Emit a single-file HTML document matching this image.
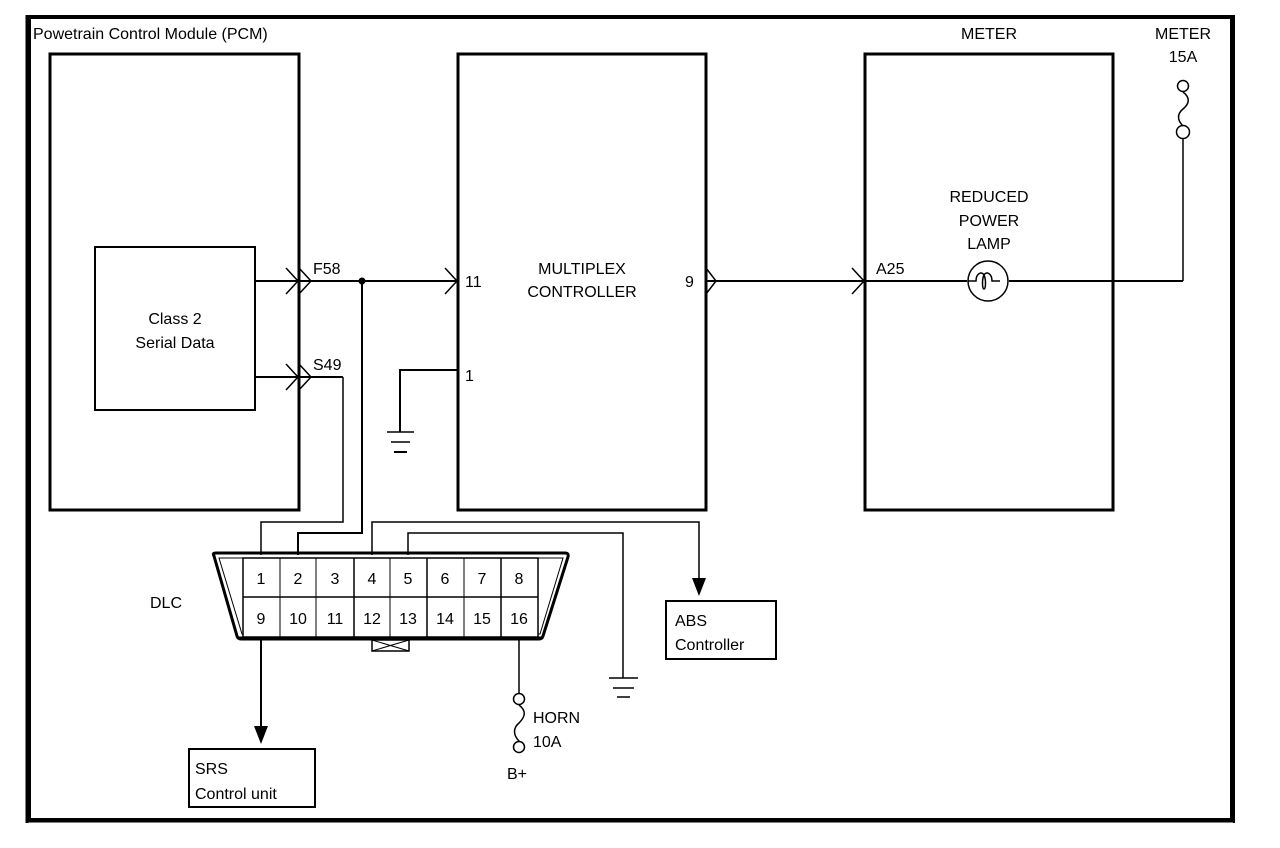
<!DOCTYPE html>
<html><head><meta charset="utf-8"><style>
html,body{margin:0;padding:0;background:#fff;}
svg{display:block;}
text{font-family:"Liberation Sans",Arial,sans-serif;font-size:16px;fill:#000;}
</style></head><body>
<svg width="1280" height="848" viewBox="0 0 1280 848" xmlns="http://www.w3.org/2000/svg">
<!-- outer border -->
<rect x="29" y="17" width="1203" height="803" fill="none" stroke="#000" stroke-width="4"/>
<line x1="27" y1="15" x2="27" y2="823" stroke="#000" stroke-width="3"/>
<line x1="27" y1="821" x2="1235" y2="821" stroke="#000" stroke-width="3"/>
<line x1="1234" y1="15" x2="1234" y2="823" stroke="#000" stroke-width="2"/>

<g fill="none" stroke="#000">
<!-- boxes -->
<rect x="50" y="54" width="249" height="456" stroke-width="3"/>
<rect x="95" y="247" width="160" height="163" stroke-width="2"/>
<rect x="458" y="54" width="248" height="456" stroke-width="3"/>
<rect x="865" y="54" width="248" height="456" stroke-width="3"/>

<!-- F58 -->
<line x1="255" y1="281" x2="457" y2="281" stroke-width="2"/>
<polyline points="286,268 298,281 286,294" stroke-width="1.5"/>
<polyline points="299,268 311,281 299,294" stroke-width="1.5"/>
<polyline points="445,268 457,281 445,294" stroke-width="1.5"/>
<!-- S49 -->
<line x1="255" y1="377" x2="343" y2="377" stroke-width="2"/>
<polyline points="286,364 298,377 286,390" stroke-width="1.5"/>
<polyline points="299,364 311,377 299,390" stroke-width="1.5"/>
<polyline points="343,377 343,522 261,522 261,555" stroke-width="1.5"/>
<!-- splice down to pin 2 -->
<polyline points="362,281 362,533 298,533 298,555" stroke-width="2"/>
<!-- ground pin 1 -->
<polyline points="457,370 400,370 400,432" stroke-width="2"/>
<line x1="387" y1="432" x2="414" y2="432" stroke-width="1.5"/>
<line x1="391" y1="442" x2="410" y2="442" stroke-width="1.5"/>
<line x1="394" y1="452" x2="407" y2="452" stroke-width="2"/>
<!-- 9 to A25 -->
<line x1="706" y1="281" x2="967" y2="281" stroke-width="2"/>
<polyline points="706,268 716,281 706,294" stroke-width="1.5"/>
<polyline points="852,268 864,281 852,294" stroke-width="1.5"/>
<line x1="1009" y1="281" x2="1183" y2="281" stroke-width="2"/>
<line x1="1183" y1="281" x2="1183" y2="139" stroke-width="1.5"/>
<!-- lamp -->
<circle cx="988" cy="281" r="20" stroke-width="1.5"/>
<path d="M968,281 h8 c0,-8 6,-10 8,-6 c2,4 2,14 0,14 c-2,0 -2,-10 0,-14 c2,-4 8,-2 8,6 h8" stroke-width="1.5"/>
<!-- meter fuse -->
<circle cx="1183" cy="86" r="5.5" stroke-width="1.5"/>
<circle cx="1183" cy="132" r="6.5" stroke-width="1.5"/>
<path d="M1183,92 c8,6 6,12 0,17 c-6,5 -6,11 0,17" stroke-width="1.5"/>

<!-- pin 4 to ABS -->
<polyline points="372,555 372,522 699,522 699,590" stroke-width="1.5"/>
<!-- pin 5 to ground -->
<polyline points="408,555 408,533 623,533 623,678" stroke-width="1.5"/>
<line x1="609" y1="678" x2="638" y2="678" stroke-width="1.5"/>
<line x1="613" y1="688" x2="634" y2="688" stroke-width="1.5"/>
<line x1="617" y1="697" x2="630" y2="697" stroke-width="1.5"/>

<!-- DLC -->
<path d="M214,556 Q212,553 216,553 L565,553 Q569,553 568,557 L543,636 Q542,639 539,639 L241,639 Q238,639 237,636 Z" stroke-width="3"/>
<path d="M219,558 L563,558 L540,634 L242,634 Z" stroke-width="1"/>
<rect x="243" y="558" width="295" height="79" stroke-width="1.5" fill="#fff"/>
<line x1="243" y1="597" x2="538" y2="597" stroke-width="1.5"/>
<line x1="280" y1="558" x2="280" y2="637" stroke-width="1"/>
<line x1="316" y1="558" x2="316" y2="637" stroke-width="1"/>
<line x1="354" y1="558" x2="354" y2="637" stroke-width="1.5"/>
<line x1="390" y1="558" x2="390" y2="637" stroke-width="1"/>
<line x1="427" y1="558" x2="427" y2="637" stroke-width="1.5"/>
<line x1="464" y1="558" x2="464" y2="637" stroke-width="1"/>
<line x1="501" y1="558" x2="501" y2="637" stroke-width="1.5"/>
<line x1="238" y1="638" x2="542" y2="638" stroke-width="3"/>
<rect x="372" y="640" width="37" height="11" stroke-width="1.5"/>
<line x1="372" y1="640" x2="409" y2="651" stroke-width="1"/>
<line x1="372" y1="651" x2="409" y2="640" stroke-width="1"/>

<!-- pin 9 to SRS -->
<line x1="261" y1="639" x2="261" y2="728" stroke-width="2"/>
<!-- pin 16 horn fuse -->
<line x1="519" y1="639" x2="519" y2="693" stroke-width="1.5"/>
<circle cx="519" cy="699" r="5.5" stroke-width="1.5"/>
<circle cx="519" cy="747" r="5.5" stroke-width="1.5"/>
<path d="M519,705 c8,6 6,12 0,18 c-6,5 -6,12 0,18" stroke-width="1.5"/>

<rect x="189" y="749" width="126" height="58" stroke-width="2"/>
<rect x="666" y="601" width="110" height="58" stroke-width="2"/>
</g>
<polygon points="254,726 268,726 261,744" fill="#000"/>
<polygon points="692,578 706,578 699,596" fill="#000"/>
<circle cx="362" cy="281" r="3.5" fill="#000"/>

<!-- labels -->
<text x="33" y="39">Powetrain Control Module (PCM)</text>
<text x="989" y="39" text-anchor="middle">METER</text>
<text x="1183" y="39" text-anchor="middle">METER</text>
<text x="1183" y="62" text-anchor="middle">15A</text>
<text x="989" y="202" text-anchor="middle">REDUCED</text>
<text x="989" y="226" text-anchor="middle">POWER</text>
<text x="989" y="249" text-anchor="middle">LAMP</text>
<text x="876" y="274">A25</text>
<text x="582" y="274" text-anchor="middle">MULTIPLEX</text>
<text x="582" y="297" text-anchor="middle">CONTROLLER</text>
<text x="465" y="287">11</text>
<text x="685" y="287">9</text>
<text x="465" y="381">1</text>
<text x="313" y="274">F58</text>
<text x="313" y="370">S49</text>
<text x="175" y="324" text-anchor="middle">Class 2</text>
<text x="175" y="348" text-anchor="middle">Serial Data</text>
<text x="150" y="608">DLC</text>
<g text-anchor="middle">
<text x="261" y="584">1</text><text x="298" y="584">2</text><text x="335" y="584">3</text><text x="372" y="584">4</text>
<text x="408" y="584">5</text><text x="445" y="584">6</text><text x="482" y="584">7</text><text x="519" y="584">8</text>
<text x="261" y="624">9</text><text x="298" y="624">10</text><text x="335" y="624">11</text><text x="372" y="624">12</text>
<text x="408" y="624">13</text><text x="445" y="624">14</text><text x="482" y="624">15</text><text x="519" y="624">16</text>
</g>
<text x="533" y="723">HORN</text>
<text x="533" y="747">10A</text>
<text x="507" y="779">B+</text>
<text x="195" y="774">SRS</text>
<text x="195" y="799">Control unit</text>
<text x="675" y="626">ABS</text>
<text x="675" y="650">Controller</text>
</svg>
</body></html>
